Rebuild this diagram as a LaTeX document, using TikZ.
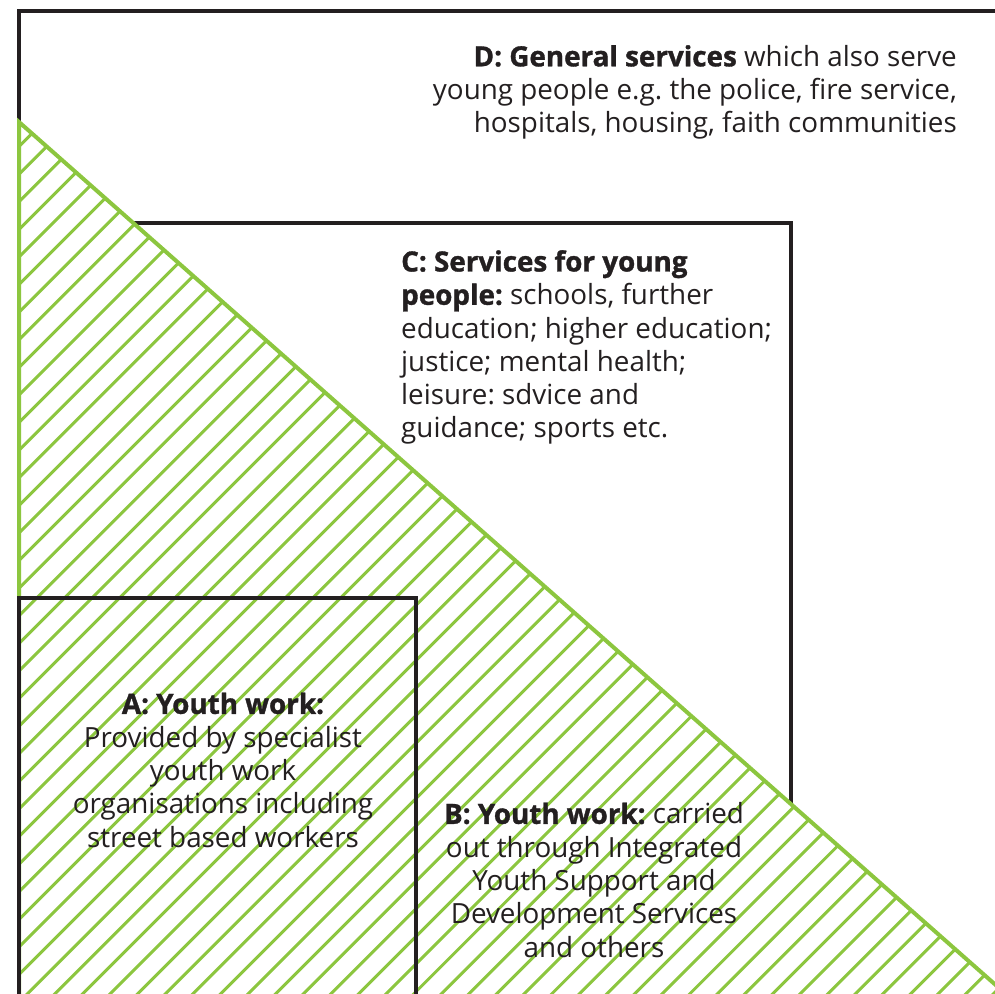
\documentclass[tikz,border=0pt]{standalone}
\usepackage{fontspec}
\setmainfont{Open Sans}[BoldFeatures={FakeBold=1.2}]
\usetikzlibrary{calc}
\definecolor{ygreen}{HTML}{8CC63F}
\definecolor{ink}{HTML}{231F20}
\begin{document}
\begin{tikzpicture}[x=1pt,y=-1pt,
  boxline/.style={draw=ink,line width=4pt},
  hatchline/.style={draw=ygreen,line width=3pt},
  triedge/.style={draw=ygreen,line width=4pt,line join=miter},
  txt/.style={inner sep=0pt,text=ink,font=\fontsize{27.8}{33.3}\selectfont\frenchspacing}]
\useasboundingbox (0,0) rectangle (995,993);
\begin{scope}
\clip (0,0) rectangle (995,993);
% D: outer frame
\draw[boxline] (19,1100) -- (19,11) -- (1100,11);
% C: services frame
\draw[boxline] (130,1000) -- (130,223) -- (791,223) -- (791,1000);
% triangle with hatching
\coordinate (t1) at (19,122);
\coordinate (t2) at (1200,1165.5);
\coordinate (t3) at (19,1165.5);
\fill[white] (t1) -- (t2) -- (t3) -- cycle;
\begin{scope}
\clip (t1) -- (t2) -- (t3) -- cycle;
\foreach \c in {0,27.6,...,2300} {
  \draw[hatchline] (\c,0) -- ++(-1300,1300);
}
\end{scope}
\draw[triedge] (t3) -- (t1) -- (t2);
% A: youth work frame
\draw[boxline] (19,1100) -- (19,598) -- (416,598) -- (416,1100);
\end{scope}
% texts
\node[txt,align=right,anchor=north east] (D) at (957,45)
  {\textbf{D: General services} which also serve\\
   young people e.g. the police, fire service,\\
   hospitals, housing, faith communities};
\node[txt,align=left,anchor=north west] (C) at (401,250)
  {\textbf{C: Services for young}\\
   \textbf{people:} schools, further\\
   education; higher education;\\
   justice; mental health;\\
   leisure: sdvice and\\
   guidance; sports etc.};
\node[txt,align=center,anchor=north] (A) at (223,692.5)
  {\textbf{A: Youth work:}\\
   Provided by specialist\\
   youth work\\
   organisations including\\
   street based workers};
\node[txt,align=center,anchor=north] (B) at (594,802.5)
  {\textbf{B: Youth work:} carried\\
   out through Integrated\\
   Youth Support and\\
   Development Services\\
   and others};
\end{tikzpicture}
\end{document}
